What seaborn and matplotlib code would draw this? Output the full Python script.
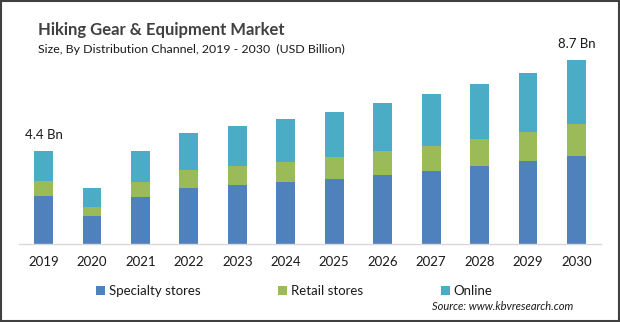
import matplotlib
matplotlib.use("Agg")
import matplotlib.pyplot as plt
import seaborn as sns
import pandas as pd
import numpy as np
from matplotlib.patches import Patch, Rectangle

years = ["2019", "2020", "2021", "2022", "2023", "2024", "2025", "2026", "2027", "2028", "2029", "2030"]
specialty = [2.27, 1.32, 2.22, 2.65, 2.79, 2.93, 3.07, 3.26, 3.45, 3.69, 3.93, 4.17]
retail = [0.71, 0.43, 0.71, 0.85, 0.90, 0.95, 1.04, 1.14, 1.18, 1.28, 1.37, 1.52]
online = [1.42, 0.90, 1.47, 1.75, 1.89, 2.03, 2.13, 2.27, 2.46, 2.60, 2.79, 3.01]
series_names = ["Specialty stores", "Retail stores", "Online"]
colors = ["#4F81BD", "#9BBB59", "#4BACC6"]
label_years = ["2019", "2030"]
label_texts = ["4.4 Bn", "8.7 Bn"]

sns.set_theme(style="white")
plt.rcParams["font.family"] = ["Lato", "DejaVu Sans"]

df = pd.DataFrame({"year": years, "specialty": specialty, "retail": retail, "online": online})
df["lvl1"] = df["specialty"]
df["lvl2"] = df["specialty"] + df["retail"]
df["lvl3"] = df["lvl2"] + df["online"]

W, H = 620, 322
fig = plt.figure(figsize=(W / 100, H / 100), dpi=100)
ax_left, ax_right = 19.3, 600.7
base_y = 244
px_per = 21.14
ymax = 10.0
ax_h = ymax * px_per
ax = fig.add_axes([ax_left / W, (H - base_y) / H, (ax_right - ax_left) / W, ax_h / H])

for col, c in zip(["lvl3", "lvl2", "lvl1"], [colors[2], colors[1], colors[0]]):
    sns.barplot(data=df, x="year", y=col, color=c, width=0.39, ax=ax,
                saturation=1, edgecolor="none", linewidth=0)

ax.set_ylim(0, ymax)
ax.set_xlim(-0.5, len(years) - 0.5)
ax.set_xlabel("")
ax.set_ylabel("")
ax.set_yticks([])
for s in ["top", "right", "left"]:
    ax.spines[s].set_visible(False)
ax.spines["bottom"].set_color("#D9D9D9")
ax.spines["bottom"].set_linewidth(1.0)
ax.tick_params(axis="x", length=0, pad=9, labelsize=9.5, labelcolor="#1a1a1a")

for yr, txt in zip(label_years, label_texts):
    i = years.index(yr)
    tot = df.loc[i, "lvl3"]
    ax.annotate(txt, xy=(i, tot), xytext=(0, 11.5), textcoords="offset points",
                ha="center", va="center", fontsize=9.5, color="#1a1a1a")

fig.text(38 / W, 1 - 30 / H, "Hiking Gear & Equipment Market", fontsize=12,
         fontweight="bold", color="#404040", ha="left", va="center")
fig.text(38 / W, 1 - 49 / H, "Size, By Distribution Channel, 2019 - 2030  (USD Billion)",
         fontsize=8.9, color="#1a1a1a", ha="left", va="center")

handles = [Patch(facecolor=c, edgecolor="none") for c in colors]
fig.legend(handles, series_names, loc="center left", bbox_to_anchor=(96 / W, 1 - 291 / H),
           ncol=3, frameon=False, fontsize=9.5, borderpad=0, borderaxespad=0,
           handlelength=0.7, handleheight=0.7, handletextpad=0.25, columnspacing=5.9,
           labelcolor="#1a1a1a")

fig.text(432 / W, 1 - 307 / H, "Source: www.kbvresearch.com", fontsize=8, style="italic",
         color="#1a1a1a", ha="left", va="center")

fig.patches.append(Rectangle((0.002, 0.003), 0.996, 0.994, transform=fig.transFigure,
                             fill=False, edgecolor="#404040", linewidth=1.5))

fig.savefig("out.png", dpi=100)
